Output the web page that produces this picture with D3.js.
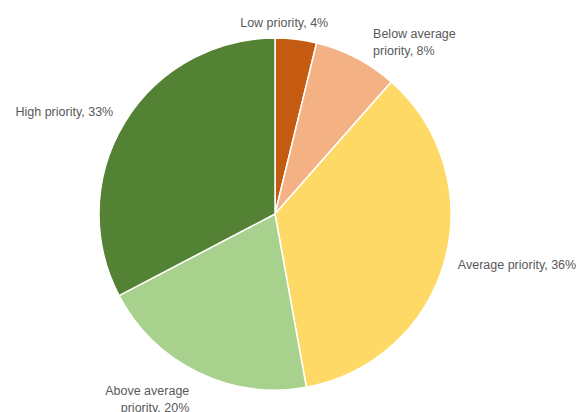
<!DOCTYPE html>
<html>
<head>
<meta charset="utf-8">
<script src="https://cdn.jsdelivr.net/npm/d3@7"></script>
<style>
  body { margin: 0; background: #fff; }
  svg { display: block; }
</style>
</head>
<body>
<div id="chart"></div>
<script>
// Kategorien und Anteile (aus dem Bild geschätzt)
const categories = ["Low priority", "Below average priority", "Average priority", "Above average priority", "High priority"];
const values = [3.8, 7.7, 35.7, 20.2, 32.7];
const labelLines = [
  ["Low priority, 4%"],
  ["Below average", "priority, 8%"],
  ["Average priority, 36%"],
  ["Above average", "priority, 20%"],
  ["High priority, 33%"]
];
const colors = ["#C55A11", "#F4B183", "#FFD966", "#A9D18E", "#548235"];

const width = 579, height = 412;
const cx = 275, cy = 214, radius = 176;

// kleine Korrekturen für die Beschriftung
const nudge = {
  "Low priority": { dx: -14, dy: 2.5 },
  "Below average priority": { dx: 8, dy: 1.5 },
  "Average priority": { dx: -5, dy: -1 },
  "Above average priority": { dx: 0, dy: 10 },
  "High priority": { dx: 5, dy: -1 }
};

const color = d3.scaleOrdinal().domain(categories).range(colors);

const svg = d3.select("#chart").append("svg")
  .attr("width", width)
  .attr("height", height);

const data = categories.map((c, i) => ({ name: c, value: values[i], lines: labelLines[i] }));

const pie = d3.pie().sort(null).value(d => d.value);
const arcs = pie(data);

const arc = d3.arc().innerRadius(0).outerRadius(radius);
const labelArc = d3.arc().innerRadius(radius + 19).outerRadius(radius + 19);

const g = svg.append("g").attr("transform", `translate(${cx},${cy})`);

g.selectAll("path")
  .data(arcs)
  .join("path")
  .attr("d", arc)
  .attr("fill", d => color(d.data.name))
  .attr("stroke", "#fff")
  .attr("stroke-width", 1.5);

const lineH = 17;
g.selectAll("text")
  .data(arcs)
  .join("text")
  .attr("font-family", "Liberation Sans, Arial, sans-serif")
  .attr("font-size", 12.5)
  .attr("fill", "#595959")
  .each(function (d) {
    const [x, y] = labelArc.centroid(d);
    const n = nudge[d.data.name] || {};
    const mid = (d.startAngle + d.endAngle) / 2;
    const s = Math.sin(mid);
    const anchor = s > 0.3 ? "start" : s < -0.3 ? "end" : "middle";
    const el = d3.select(this).attr("text-anchor", anchor);
    const k = d.data.lines.length;
    d.data.lines.forEach((line, i) => {
      el.append("tspan")
        .attr("x", x + (n.dx || 0))
        .attr("y", y + (n.dy || 0) + 4 + (i - (k - 1) / 2) * lineH)
        .text(line);
    });
  });
</script>
</body>
</html>
